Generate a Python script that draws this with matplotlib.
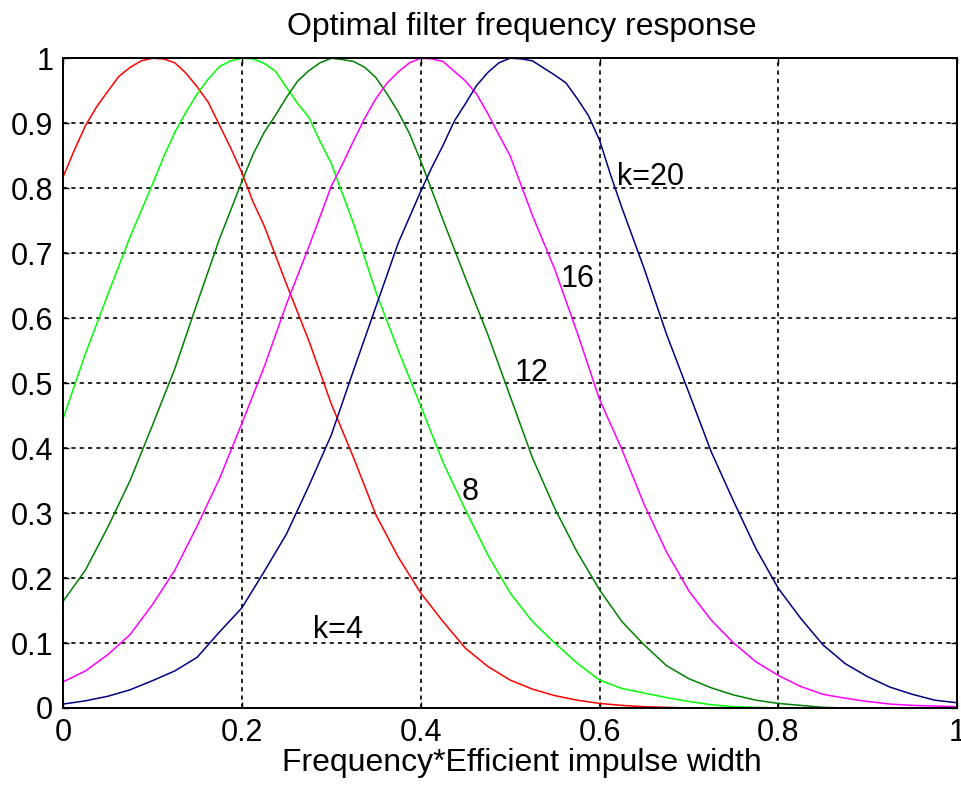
import numpy as np
import matplotlib
matplotlib.use("Agg")
import matplotlib.pyplot as plt

plt.rcParams['font.family'] = ['Liberation Sans', 'DejaVu Sans']

# values, x = frequency * efficient impulse width
x_k4 = [0, 0.0125, 0.025, 0.0375, 0.05, 0.0625, 0.075, 0.0875, 0.1, 0.1125,
        0.125, 0.1375, 0.15, 0.1625, 0.175, 0.1875, 0.2, 0.2125, 0.225, 0.25,
        0.275, 0.3, 0.325, 0.35, 0.375, 0.4, 0.425, 0.45, 0.475, 0.5,
        0.525, 0.55, 0.575, 0.6, 0.625, 0.65, 0.675, 0.7, 1.0]
y_k4 = [0.817, 0.858, 0.896, 0.925, 0.949, 0.972, 0.986, 0.996, 1.0, 0.999,
        0.993, 0.977, 0.956, 0.932, 0.897, 0.862, 0.824, 0.779, 0.742, 0.652,
        0.565, 0.468, 0.385, 0.297, 0.232, 0.177, 0.133, 0.092, 0.064, 0.043,
        0.029, 0.019, 0.012, 0.007, 0.004, 0.002, 0.001, 0.0, 0.0]

x_k8 = [0, 0.025, 0.05, 0.075, 0.1, 0.1125, 0.125, 0.1375, 0.15, 0.1625,
        0.175, 0.1875, 0.2, 0.2125, 0.225, 0.2375, 0.25, 0.2625, 0.275, 0.2875,
        0.3, 0.325, 0.35, 0.375, 0.4, 0.425, 0.45, 0.475, 0.5, 0.525,
        0.55, 0.575, 0.6, 0.625, 0.65, 0.675, 0.7, 0.725, 0.75, 0.775, 0.8, 1.0]
y_k8 = [0.445, 0.545, 0.636, 0.725, 0.806, 0.848, 0.886, 0.917, 0.945, 0.968,
        0.987, 0.996, 1.0, 0.999, 0.992, 0.98, 0.955, 0.93, 0.909, 0.872,
        0.838, 0.745, 0.64, 0.55, 0.465, 0.378, 0.305, 0.236, 0.177, 0.133,
        0.1, 0.069, 0.043, 0.03, 0.023, 0.016, 0.01, 0.005, 0.002, 0.001, 0.0, 0.0]

x_k12 = [0, 0.025, 0.05, 0.075, 0.1, 0.125, 0.15, 0.175, 0.2, 0.2125,
         0.225, 0.2375, 0.25, 0.2625, 0.275, 0.2875, 0.3, 0.3125, 0.325, 0.3375,
         0.35, 0.3625, 0.375, 0.3875, 0.4, 0.425, 0.45, 0.475, 0.5, 0.525,
         0.55, 0.575, 0.6, 0.625, 0.65, 0.675, 0.7, 0.725, 0.75, 0.775,
         0.8, 0.825, 0.85, 0.875, 1.0]
y_k12 = [0.164, 0.212, 0.278, 0.35, 0.435, 0.522, 0.623, 0.722, 0.81, 0.852,
         0.886, 0.912, 0.94, 0.965, 0.981, 0.993, 1.0, 0.998, 0.995, 0.986,
         0.97, 0.945, 0.917, 0.884, 0.842, 0.751, 0.662, 0.575, 0.48, 0.385,
         0.307, 0.24, 0.182, 0.133, 0.097, 0.065, 0.045, 0.031, 0.02, 0.012,
         0.007, 0.004, 0.001, 0.0, 0.0]

x_k16 = [0, 0.025, 0.05, 0.075, 0.1, 0.125, 0.15, 0.175, 0.2, 0.225,
         0.25, 0.275, 0.3, 0.3125, 0.325, 0.3375, 0.35, 0.3625, 0.375, 0.3875,
         0.4, 0.4125, 0.425, 0.4375, 0.45, 0.4625, 0.475, 0.4875, 0.5, 0.525,
         0.55, 0.575, 0.6, 0.625, 0.65, 0.675, 0.7, 0.725, 0.75, 0.775,
         0.8, 0.825, 0.85, 0.875, 0.9, 0.925, 0.95, 0.975, 1.0]
y_k16 = [0.04, 0.057, 0.082, 0.113, 0.159, 0.212, 0.28, 0.353, 0.438, 0.525,
         0.622, 0.71, 0.803, 0.837, 0.873, 0.908, 0.938, 0.962, 0.979, 0.993,
         1.0, 0.999, 0.995, 0.98, 0.965, 0.945, 0.915, 0.882, 0.85, 0.758,
         0.675, 0.578, 0.475, 0.398, 0.313, 0.24, 0.18, 0.135, 0.1, 0.071,
         0.05, 0.033, 0.021, 0.015, 0.01, 0.006, 0.004, 0.003, 0.002]

x_k20 = [0, 0.025, 0.05, 0.075, 0.1, 0.125, 0.15, 0.175, 0.2, 0.225,
         0.25, 0.275, 0.3, 0.325, 0.35, 0.375, 0.4, 0.4125, 0.425, 0.4375,
         0.45, 0.4625, 0.475, 0.4875, 0.5, 0.5125, 0.525, 0.5375, 0.55, 0.5625,
         0.575, 0.5875, 0.6, 0.6125, 0.625, 0.65, 0.675, 0.7, 0.725, 0.75,
         0.775, 0.8, 0.825, 0.85, 0.875, 0.9, 0.925, 0.95, 0.975, 1.0]
y_k20 = [0.006, 0.011, 0.018, 0.028, 0.042, 0.057, 0.078, 0.117, 0.154, 0.21,
         0.268, 0.342, 0.42, 0.52, 0.618, 0.716, 0.795, 0.832, 0.866, 0.903,
         0.93, 0.958, 0.978, 0.993, 1.0, 0.999, 0.996, 0.985, 0.974, 0.962,
         0.938, 0.912, 0.874, 0.82, 0.77, 0.676, 0.575, 0.485, 0.394, 0.318,
         0.245, 0.184, 0.138, 0.097, 0.068, 0.048, 0.032, 0.021, 0.012, 0.008]

curves = [(x_k4, y_k4), (x_k8, y_k8), (x_k12, y_k12), (x_k16, y_k16), (x_k20, y_k20)]
colors = ['#ff0000', '#00ff00', '#008000', '#ff00ff', '#000080']

labels = ['k=4', '8', '12', '16', 'k=20']
label_x = [0.28, 0.4455, 0.5056, 0.556, 0.62]
label_y = [0.108, 0.32, 0.503, 0.648, 0.805]

fig = plt.figure(figsize=(9.62, 7.87), dpi=100)
ax = fig.add_axes([0.0655, 0.1004, 0.9295, 0.8256])

for (xv, yv), c in zip(curves, colors):
    ax.plot(xv, yv, color=c, lw=1.1)

for t, tx, ty in zip(labels, label_x, label_y):
    ax.text(tx, ty, t, fontsize=22, ha='left', va='baseline')

ax.set_xlim(0, 1)
ax.set_ylim(0, 1)
ax.set_xticks([0, 0.2, 0.4, 0.6, 0.8, 1])
ax.set_xticklabels(['0', '0.2', '0.4', '0.6', '0.8', '1'])
ax.set_yticks(np.arange(11) / 10)
ax.set_yticklabels(['0', '0.1', '0.2', '0.3', '0.4', '0.5', '0.6', '0.7', '0.8', '0.9', '1'])
ax.tick_params(direction='in', length=4, width=1, top=True, right=True,
               labelsize=22, pad=7)
ax.grid(True, color='k', linestyle=(0, (2.5, 2.5)), lw=1.2)
for s in ax.spines.values():
    s.set_linewidth(1.4)

ax.set_title('Optimal filter frequency response', fontsize=23, pad=17, x=0.513)
ax.set_xlabel('Frequency*Efficient impulse width', fontsize=23, labelpad=0)
ax.xaxis.label.set_x(0.513)

fig.savefig('out.png', dpi=100)
